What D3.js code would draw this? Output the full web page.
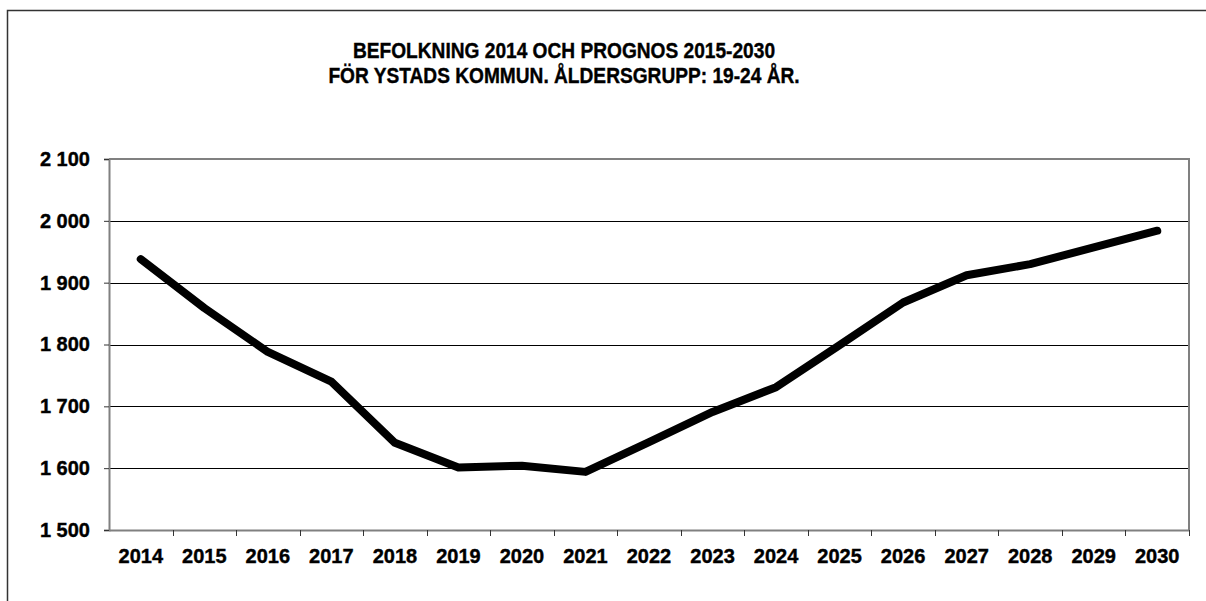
<!DOCTYPE html>
<html>
<head>
<meta charset="utf-8">
<script src="https://cdn.jsdelivr.net/npm/d3@7"></script>
<style>
  body { margin: 0; background: #fff; }
  text { font-family: Arial, "Liberation Sans", sans-serif; font-weight: bold; fill: #000;
         stroke: #000; stroke-width: 0.4px; }
</style>
</head>
<body>
<script>
// population aged 19-24, Ystad, 2014 actual + forecast
const years = ["2014", "2015", "2016", "2017", "2018", "2019", "2020", "2021", "2022",
               "2023", "2024", "2025", "2026", "2027", "2028", "2029", "2030"]
const population = [1938, 1859, 1788, 1740, 1641, 1601, 1604, 1594, 1642,
                    1691, 1731, 1799, 1868, 1912, 1930, 1957, 1984]
const yTicks = [1500, 1600, 1700, 1800, 1900, 2000, 2100]
const titleLines = ["BEFOLKNING 2014 OCH PROGNOS 2015-2030",
                    "FÖR YSTADS KOMMUN. ÅLDERSGRUPP: 19-24 ÅR."]

const W = 1206, H = 601
const plot = {left: 109, right: 1189, top: 159, bottom: 530}

const svg = d3.select('body').append('svg')
    .attr('width', W)
    .attr('height', H)

// outer chart frame (cut off at right and bottom)
svg.append('rect')
    .attr('x', 7.5).attr('y', 10.5)
    .attr('width', W + 20).attr('height', H + 20)
    .attr('fill', 'none')
    .attr('stroke', '#333')
    .attr('stroke-width', 1.5)

// title - a bit narrower than plain Arial bold, like the original
svg.append('g')
    .attr('transform', 'translate(564,0) scale(0.87,1)')
    .selectAll('text').data(titleLines)
    .enter().append('text')
    .attr('x', 0)
    .attr('y', (d, i) => 58 + i * 25)
    .attr('text-anchor', 'middle')
    .style('font-size', '22px')
    .text(d => d)

const xScale = d3.scaleBand()
    .domain(years)
    .range([plot.left, plot.right])

const yScale = d3.scaleLinear()
    .domain([1500, 2100])
    .range([plot.bottom, plot.top])

// gridlines
svg.append('g').selectAll('line').data(yTicks.slice(1, -1))
    .enter().append('line')
    .attr('x1', plot.left).attr('x2', plot.right)
    .attr('y1', d => Math.round(yScale(d)) + 0.5)
    .attr('y2', d => Math.round(yScale(d)) + 0.5)
    .attr('stroke', '#000')
    .attr('stroke-width', 1)

// plot frame top + right
svg.append('path')
    .attr('d', `M${plot.left},${plot.top}H${plot.right}V${plot.bottom}`)
    .attr('fill', 'none')
    .attr('stroke', '#808080')
    .attr('stroke-width', 2)

// y axis
const yAxis = svg.append('g')
    .attr('transform', 'translate(' + plot.left + ',0)')
    .call(d3.axisLeft(yScale)
        .tickValues(yTicks)
        .tickSize(5)
        .tickPadding(14)
        .tickFormat(d => d3.format(',')(d).replace(',', ' ')))
yAxis.select('.domain').attr('stroke', '#808080').attr('stroke-width', 2)
yAxis.selectAll('.tick line').attr('stroke', '#333')
yAxis.selectAll('text')
    .style('font-size', '20px')
    .style('font-family', 'Arial, "Liberation Sans", sans-serif')

// x axis: ticks between categories
const xAxis = svg.append('g')
    .attr('transform', 'translate(0,' + plot.bottom + ')')
    .call(d3.axisBottom(xScale).tickSize(0).tickPadding(19))
xAxis.select('.domain').attr('stroke', '#808080').attr('stroke-width', 2)
xAxis.selectAll('text')
    .style('font-size', '20px')
    .style('font-family', 'Arial, "Liberation Sans", sans-serif')
xAxis.append('g').selectAll('line').data(years)
    .enter().append('line')
    .attr('x1', d => Math.round(xScale(d) + xScale.bandwidth()) + 0.5)
    .attr('x2', d => Math.round(xScale(d) + xScale.bandwidth()) + 0.5)
    .attr('y1', 0).attr('y2', 6)
    .attr('stroke', '#333')

// data line
const line = d3.line()
    .x((d, i) => xScale(years[i]) + xScale.bandwidth() / 2)
    .y(d => yScale(d))

svg.append('path')
    .datum(population)
    .attr('d', line)
    .attr('fill', 'none')
    .attr('stroke', '#000')
    .attr('stroke-width', 8)
    .attr('stroke-linecap', 'round')
    .attr('stroke-linejoin', 'round')
</script>
</body>
</html>
